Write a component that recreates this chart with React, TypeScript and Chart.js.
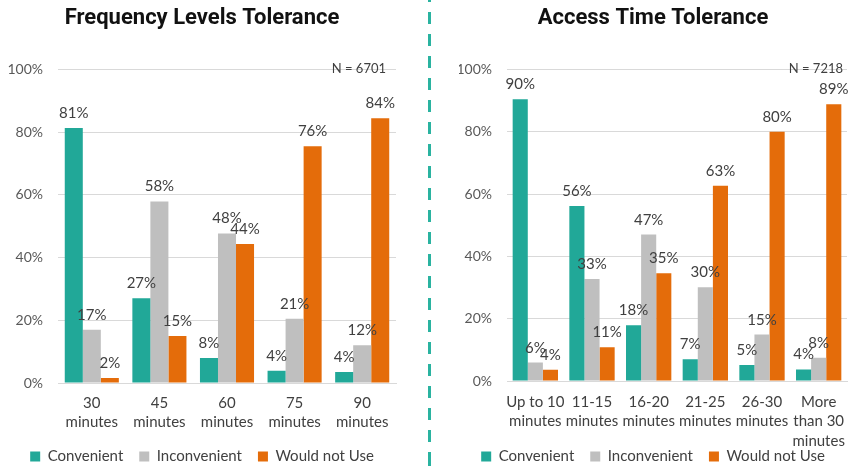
import React, { useEffect, useRef } from 'react';
import Chart from 'chart.js/auto';

// series shared by both panels
const seriesNames = ['Convenient', 'Inconvenient', 'Would not Use'];
const seriesColors = ['#21A898', '#BFBFBF', '#E46C0A'];

// Frequency levels tolerance (N = 6701)
const freqTitle = 'Frequency Levels Tolerance';
const freqN = 'N = 6701';
const freqCategories = [['30', 'minutes'], ['45', 'minutes'], ['60', 'minutes'], ['75', 'minutes'], ['90', 'minutes']];
const freqConvenient = [81.3, 27, 8, 3.9, 3.5];
const freqInconvenient = [17, 57.9, 47.7, 20.5, 12];
const freqWouldNotUse = [1.6, 15, 44.3, 75.5, 84.4];

// Access time tolerance (N = 7218)
const accessTitle = 'Access Time Tolerance';
const accessN = 'N = 7218';
const accessCategories = [
    ['Up to 10', 'minutes'],
    ['11-15', 'minutes'],
    ['16-20', 'minutes'],
    ['21-25', 'minutes'],
    ['26-30', 'minutes'],
    ['More', 'than 30', 'minutes'],
];
const accessConvenient = [90.4, 56.2, 17.9, 7.0, 5.1, 3.7];
const accessInconvenient = [5.9, 32.7, 47.0, 30.1, 14.9, 7.5];
const accessWouldNotUse = [3.6, 10.8, 34.6, 62.7, 80.0, 88.8];

const yTicks = [0, 20, 40, 60, 80, 100];

const FONT = 'Lato, "Liberation Sans", sans-serif';

const barLabels = {
    id: 'barLabels',
    afterDatasetsDraw(chart: any) {
        const ctx = chart.ctx;
        ctx.save();
        ctx.font = `15px ${FONT}`;
        ctx.fillStyle = '#404040';
        ctx.textAlign = 'center';
        ctx.textBaseline = 'alphabetic';
        chart.data.datasets.forEach((ds: any, i: number) => {
            const meta = chart.getDatasetMeta(i);
            meta.data.forEach((bar: any, j: number) => {
                ctx.fillText(Math.round(ds.data[j]) + '%', bar.x, bar.y - 10);
            });
        });
        ctx.restore();
    },
};

const nLabel = {
    id: 'nLabel',
    afterDraw(chart: any, _args: any, opts: any) {
        const ctx = chart.ctx;
        const area = chart.chartArea;
        ctx.save();
        ctx.font = `13px ${FONT}`;
        ctx.fillStyle = '#404040';
        ctx.textAlign = 'right';
        ctx.textBaseline = 'middle';
        ctx.fillText(opts.text, area.right - opts.offset, area.top - 1);
        ctx.restore();
    },
};

type PanelProps = {
    title: string;
    nText: string;
    nOffset: number;
    categories: string[][];
    series: number[][];
    padLeft: number;
    padRight: number;
    yWidth: number;
    xHeight: number;
    xPad: number;
    style: React.CSSProperties;
};

const Panel: React.FC<PanelProps> = ({ title, nText, nOffset, categories, series, padLeft, padRight, yWidth, xHeight, xPad, style }) => {
    const canvasRef = useRef<HTMLCanvasElement>(null);
    const chartRef = useRef<Chart | null>(null);

    useEffect(() => {
        if (!canvasRef.current) return;
        if (chartRef.current) chartRef.current.destroy();
        chartRef.current = new Chart(canvasRef.current, {
            type: 'bar',
            data: {
                labels: categories,
                datasets: series.map((values, i) => ({
                    label: seriesNames[i],
                    data: values,
                    backgroundColor: seriesColors[i],
                    barPercentage: 1,
                    categoryPercentage: 0.8,
                })),
            },
            options: {
                animation: false,
                responsive: true,
                maintainAspectRatio: false,
                layout: { padding: { left: padLeft, right: padRight, top: 0, bottom: -8 } },
                plugins: {
                    title: {
                        display: true,
                        text: title,
                        color: '#111',
                        font: { family: 'Roboto, sans-serif', size: 22, weight: 'bold' },
                        padding: { top: 5, bottom: 38 },
                    },
                    legend: {
                        position: 'bottom',
                        labels: {
                            boxWidth: 10,
                            boxHeight: 10,
                            color: '#404040',
                            font: { family: FONT, size: 15 },
                            padding: 16,
                        },
                    },
                    tooltip: { enabled: false },
                    nLabel: { text: nText, offset: nOffset },
                } as any,
                scales: {
                    x: {
                        grid: { display: false, drawTicks: false },
                        border: { color: '#D9D9D9' },
                        afterFit: (axis: any) => {
                            axis.height = xHeight;
                            axis.paddingLeft = 0;
                            axis.paddingRight = 0;
                            // the last label runs into the legend, as in the original
                            axis._computeLabelArea = () => undefined;
                        },
                        ticks: {
                            color: '#404040',
                            font: { family: FONT, size: 15, lineHeight: 1.3 },
                            maxRotation: 0,
                            autoSkip: false,
                            padding: xPad,
                        },
                    },
                    y: {
                        min: 0,
                        max: 100,
                        afterBuildTicks: (axis: any) => {
                            axis.ticks = yTicks.map(v => ({ value: v }));
                        },
                        afterFit: (axis: any) => {
                            axis.width = yWidth;
                        },
                        grid: { color: '#D9D9D9', drawTicks: false },
                        border: { display: false },
                        ticks: {
                            color: '#595959',
                            font: { family: FONT, size: 14 },
                            padding: 15,
                            callback: (v: any) => v + '%',
                        },
                    },
                },
            },
            plugins: [barLabels, nLabel],
        });
        return () => {
            if (chartRef.current) chartRef.current.destroy();
            chartRef.current = null;
        };
    }, []);

    return (
        <div style={{ position: 'absolute', top: 0, height: 466, ...style }}>
            <canvas ref={canvasRef}></canvas>
        </div>
    );
};

const App: React.FC = () => {
    return (
        <div style={{ position: 'fixed', left: 0, top: 0, width: 848, height: 466, background: '#fff', overflow: 'hidden' }}>
            <Panel
                title={freqTitle}
                nText={freqN}
                nOffset={10}
                categories={freqCategories}
                series={[freqConvenient, freqInconvenient, freqWouldNotUse]}
                padLeft={8}
                padRight={10}
                yWidth={50}
                xHeight={50}
                xPad={10}
                style={{ left: 0, width: 406 }}
            />
            <div
                style={{
                    position: 'absolute',
                    left: 428,
                    top: 0,
                    width: 3,
                    height: 466,
                    backgroundImage: 'repeating-linear-gradient(to bottom, #2AB3A0 0px, #2AB3A0 12px, transparent 12px, transparent 22px)',
                    backgroundPosition: '0 -10px',
                }}
            />
            <Panel
                title={accessTitle}
                nText={accessN}
                nOffset={4}
                categories={accessCategories}
                series={[accessConvenient, accessInconvenient, accessWouldNotUse]}
                padLeft={0}
                padRight={1}
                yWidth={48}
                xHeight={52}
                xPad={11}
                style={{ left: 459, width: 389 }}
            />
        </div>
    );
};

export default App;
